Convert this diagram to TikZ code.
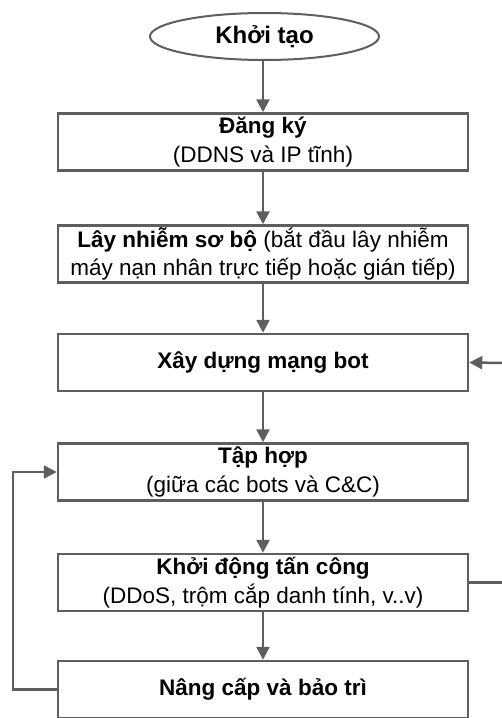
\documentclass[tikz,border=0pt]{standalone}
\usepackage{fontspec}
\setmainfont{Liberation Sans}
\usetikzlibrary{arrows.meta,shapes.geometric}
\definecolor{edgegray}{HTML}{5E5E5E}
\begin{document}
\begin{tikzpicture}[x=1pt,y=-1pt,
  stepbox/.style={draw=edgegray, line width=2.5pt, fill=white,
    minimum width=410pt, minimum height=57pt, align=center, inner sep=0pt,
    font=\fontsize{22.5}{28.5}\selectfont},
  startnode/.style={ellipse, draw=edgegray, line width=2pt, fill=white,
    minimum width=229pt, minimum height=47pt, inner sep=0pt,
    font=\bfseries\fontsize{24}{28}\selectfont},
  flow/.style={draw=edgegray, line width=2.5pt,
    -{Triangle[length=13pt,width=13pt]}},
  link/.style={draw=edgegray, line width=2.5pt}]
\useasboundingbox (0,0) rectangle (502,718);

% process steps
\node[startnode] (start) at (264.5,36.5) {Khởi tạo};
\node[stepbox] (b1) at (263,142) {\textbf{Đăng ký}\\(DDNS và IP tĩnh)};
\node[stepbox] (b2) at (263,254) {\textbf{Lây nhiễm sơ bộ} (bắt đầu lây nhiễm\\máy nạn nhân trực tiếp hoặc gián tiếp)};
\node[stepbox] (b3) at (263,362.5) {\textbf{Xây dựng mạng bot}};
\node[stepbox] (b4) at (263,472) {\textbf{Tập hợp}\\(giữa các bots và C\&C)};
\node[stepbox] (b5) at (263,582.5) {\textbf{Khởi động tấn công}\\(DDoS, trộm cắp danh tính, v..v)};
\node[stepbox] (b6) at (263,689.5) {\textbf{Nâng cấp và bảo trì}};

% main flow
\draw[flow] (start.south -| b1.north) -- (b1.north);
\draw[flow] (b1) -- (b2);
\draw[flow] (b2) -- (b3);
\draw[flow] (b3) -- (b4);
\draw[flow] (b4) -- (b5);
\draw[flow] (b5) -- (b6);

% maintenance loop back to rallying
\draw[flow] (b6.west) -- ++(-44,0) |- (b4.west);

% attack loop back to botnet building (runs past the right edge)
\coordinate (rtop) at (506,363);
\coordinate (rbot) at (506,582.5);
\draw[link] (b5.east) -- (rbot);
\draw[flow] (rtop) -- (b3.east);
\end{tikzpicture}
\end{document}
